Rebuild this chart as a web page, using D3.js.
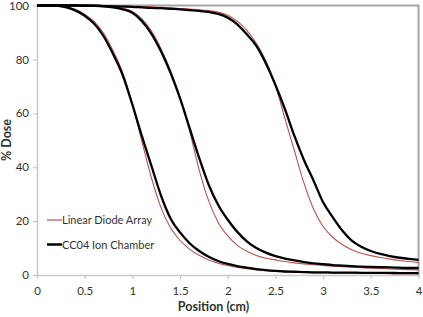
<!DOCTYPE html>
<html>
<head>
<meta charset="utf-8">
<script src="https://cdn.jsdelivr.net/npm/d3@7"></script>
<style>
  body { margin: 0; background: #fff; }
  text { font-family: Lato, "Open Sans", sans-serif; fill: #333; }
</style>
</head>
<body>
<div id="chart-container"></div>
<script>
// Positions along the profile (cm)
const positions = [0, 0.1, 0.2, 0.3, 0.4, 0.5, 0.6, 0.7, 0.8, 0.9,
  1.0, 1.1, 1.2, 1.3, 1.4, 1.5, 1.6, 1.7, 1.8, 1.9,
  2.0, 2.1, 2.2, 2.3, 2.4, 2.5, 2.6, 2.7, 2.8, 2.9,
  3.0, 3.1, 3.2, 3.3, 3.4, 3.5, 3.6, 3.7, 3.8, 3.9, 4.0];

// Linear diode array profiles (% dose)
const diode1 = [100, 100, 100, 99.6, 98.6, 96.8, 94, 89.6, 83, 75,
  63.5, 49.5, 36, 25, 17.5, 12.8, 9.6, 7.3, 5.6, 4.4,
  3.5, 2.8, 2.3, 1.9, 1.6, 1.3, 1.1, 1.0, 0.9, 0.8,
  0.8, 0.7, 0.7, 0.7, 0.6, 0.6, 0.6, 0.5, 0.5, 0.5, 0.5];
const diode2 = [100, 100, 100, 100, 100, 100, 99.9, 99.8, 99.5, 98.9,
  97.8, 95, 90.5, 84, 76, 66, 53.5, 39, 27.5, 19.5,
  14.5, 11, 8.8, 7.2, 6.2, 5.6, 5.0, 4.5, 4.1, 3.8,
  3.5, 3.3, 3.1, 2.9, 2.7, 2.5, 2.4, 2.2, 2.1, 2.0, 1.9];
const diode3 = [100, 100, 100, 100, 100, 100, 100, 99.9, 99.9, 99.8,
  99.7, 99.6, 99.5, 99.3, 99.1, 98.9, 98.7, 98.4, 98.1, 97.5,
  96.4, 94.2, 90.8, 86, 79.5, 70.5, 58, 46, 34, 24.5,
  18, 14, 11.3, 9.4, 8.1, 7.2, 6.5, 5.9, 5.4, 5.0, 4.6];

// CC04 ion chamber profiles (% dose)
const chamber1 = [100, 100, 100, 99.4, 98.2, 96.2, 93.2, 88.5, 81.8, 74,
  63.2, 51.5, 40.5, 29.5, 21, 15.8, 11.8, 8.9, 6.8, 5.2,
  4.1, 3.3, 2.7, 2.2, 1.8, 1.5, 1.3, 1.2, 1.1, 1.0,
  1.0, 0.9, 0.9, 0.9, 0.8, 0.8, 0.8, 0.8, 0.7, 0.7, 0.7];
const chamber2 = [100, 100, 100, 100, 100, 100, 99.9, 99.7, 99.3, 98.6,
  97.3, 94.2, 89.5, 83, 75, 65.5, 54.5, 43.5, 33.5, 26,
  20.5, 16, 12.5, 10, 8.3, 7, 6.1, 5.4, 4.8, 4.3,
  4.0, 3.7, 3.5, 3.3, 3.1, 3.0, 2.9, 2.8, 2.7, 2.6, 2.6];
const chamber3 = [100, 100, 100, 100, 100, 99.9, 99.9, 99.8, 99.7, 99.6,
  99.5, 99.3, 99.1, 99.0, 98.8, 98.6, 98.3, 98.0, 97.6, 96.9,
  95.5, 93, 89.3, 85, 78.5, 70.5, 61.5, 51.5, 42.6, 35,
  27, 21.5, 16.5, 12.8, 10.5, 8.9, 7.8, 7.0, 6.4, 6.0, 5.6];

const xTicks = [0, 0.5, 1, 1.5, 2, 2.5, 3, 3.5, 4];
const xTickLabels = ["0", "0.5", "1", "1.5", "2", "2.5", "3", "3.5", "4"];
const yTicks = [0, 20, 40, 60, 80, 100];

const legendLabels = ["Linear Diode Array", "CC04 Ion Chamber"];
const diodeColor = "#c0504d";
const chamberColor = "#000";

const width = 423, height = 317;
const margin = { top: 5.5, right: 4.5, bottom: 42, left: 37 };

const svg = d3.select("#chart-container")
  .append("svg")
  .attr("width", width)
  .attr("height", height);

const xScale = d3.scaleLinear()
  .domain([0, 4])
  .range([margin.left, width - margin.right]);

const yScale = d3.scaleLinear()
  .domain([0, 100])
  .range([height - margin.bottom, margin.top]);

// plot frame: top and right edges
svg.append("path")
  .attr("d", `M${margin.left},${margin.top}H${width - margin.right}V${height - margin.bottom}`)
  .attr("fill", "none")
  .attr("stroke", "#a6a6a6")
  .attr("stroke-width", 2);

// x axis
const xAxis = svg.append("g")
  .attr("transform", `translate(0,${height - margin.bottom})`)
  .call(d3.axisBottom(xScale)
    .tickValues(xTicks)
    .tickFormat((d, i) => xTickLabels[i])
    .tickSizeInner(4)
    .tickSizeOuter(0)
    .tickPadding(8));

// y axis
const yAxis = svg.append("g")
  .attr("transform", `translate(${margin.left},0)`)
  .call(d3.axisLeft(yScale)
    .tickValues(yTicks)
    .tickSizeInner(4)
    .tickSizeOuter(0)
    .tickPadding(4));

[xAxis, yAxis].forEach(g => {
  g.select(".domain").attr("stroke", "#c8c8c8").attr("stroke-width", 1.5);
  g.selectAll(".tick line").attr("stroke", "#c8c8c8").attr("stroke-width", 1.2);
  g.selectAll(".tick text")
    .attr("font-family", "Lato, 'Open Sans', sans-serif")
    .attr("font-size", 11.5)
    .attr("fill", "#333");
});

const line = d3.line()
  .x((d, i) => xScale(positions[i]))
  .y(d => yScale(d))
  .curve(d3.curveMonotoneX);

// diode array curves (drawn first, thin red)
[diode1, diode2, diode3].forEach(series => {
  svg.append("path")
    .datum(series)
    .attr("d", line)
    .attr("fill", "none")
    .attr("stroke", diodeColor)
    .attr("stroke-width", 1.1);
});

// ion chamber curves (thick black)
[chamber1, chamber2, chamber3].forEach(series => {
  svg.append("path")
    .datum(series)
    .attr("d", line)
    .attr("fill", "none")
    .attr("stroke", chamberColor)
    .attr("stroke-width", 2.3);
});

// legend
const legend = svg.append("g").attr("class", "legend");
const legendRows = [
  { label: legendLabels[0], color: diodeColor, w: 1.2, y: 220 },
  { label: legendLabels[1], color: chamberColor, w: 2.5, y: 244.5 }
];
legendRows.forEach(r => {
  legend.append("line")
    .attr("x1", 47).attr("x2", 62)
    .attr("y1", r.y).attr("y2", r.y)
    .attr("stroke", r.color)
    .attr("stroke-width", r.w);
  legend.append("text")
    .attr("x", 62)
    .attr("y", r.y + 4)
    .attr("font-size", 11)
    .text(r.label);
});

// axis titles
svg.append("text")
  .attr("x", 213.5)
  .attr("y", 311)
  .attr("text-anchor", "middle")
  .attr("font-size", 12.5)
  .attr("font-weight", "bold")
  .text("Position (cm)");

svg.append("text")
  .attr("transform", "rotate(-90)")
  .attr("x", -140)
  .attr("y", 11)
  .attr("text-anchor", "middle")
  .attr("font-size", 12.5)
  .attr("font-weight", "bold")
  .text("% Dose");
</script>
</body>
</html>
